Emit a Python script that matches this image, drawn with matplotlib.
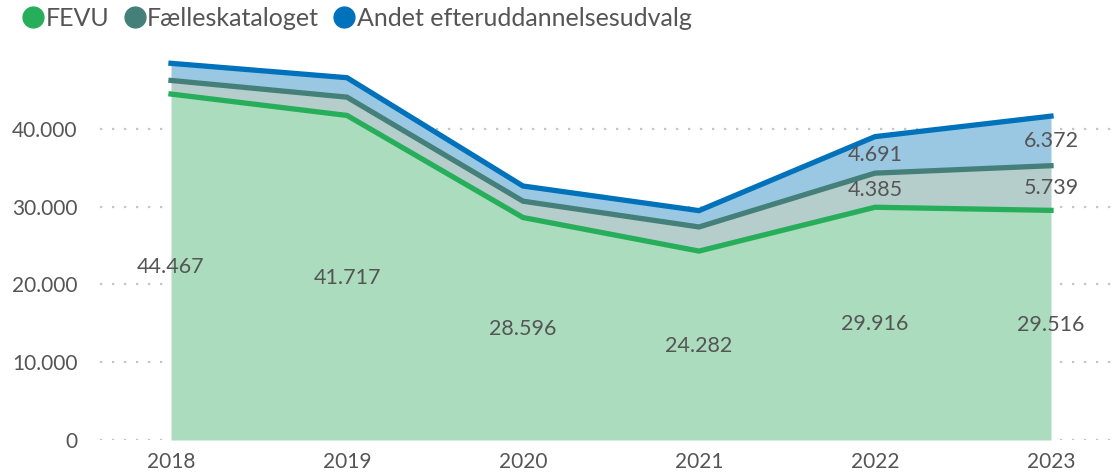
import numpy as np
import matplotlib.pyplot as plt
from matplotlib.lines import Line2D

years = [2018, 2019, 2020, 2021, 2022, 2023]
fevu = [44467, 41717, 28596, 24282, 29916, 29516]
faelles = [1750, 2350, 2100, 3100, 4385, 5739]
andet = [2200, 2500, 1950, 2100, 4691, 6372]

series = ["FEVU", "Fælleskataloget", "Andet efteruddannelsesudvalg"]
line_colors = ["#27ae5a", "#457f7a", "#0072bb"]
fill_colors = ["#aadcbd", "#b5cdcb", "#9ac8e2"]
yticks = [0, 10000, 20000, 30000, 40000]

plt.rcParams["font.family"] = ["Lato", "DejaVu Sans"]


def dk(v):
    return f"{v:,}".replace(",", ".")


fig = plt.figure(figsize=(11.14, 4.76), dpi=100)
ax = fig.add_axes([100 / 1114, 36 / 476, 1014 / 1114, 389 / 476])

x = np.array(years)
vals = [np.array(fevu), np.array(faelles), np.array(andet)]
base = np.zeros(len(x))
for v, fc in zip(vals, fill_colors):
    top = base + v
    ax.fill_between(x, base, top, color=fc, linewidth=0, zorder=1)
    base = top

base = np.zeros(len(x))
for i, (v, lc) in enumerate(zip(vals, line_colors)):
    top = base + v
    ax.plot(x, top, color=lc, linewidth=3.8, solid_joinstyle="miter", zorder=3 + i)
    for xi, b, vi in zip(x, base, v):
        if vi > 4000:
            ax.text(xi, b + vi / 2, dk(int(vi)), ha="center", va="center",
                    fontsize=15.5, color="#555555", zorder=10)
    base = top

ax.set_xlim(2018 - 71 / 176, 2018 - 71 / 176 + 1014 / 176)
ax.set_ylim(0, 50000)
ax.set_xticks(years)
ax.set_xticklabels([str(y) for y in years])
ax.set_yticks(yticks)
ax.set_yticklabels([dk(t) for t in yticks])
ax.tick_params(length=0, labelsize=15, colors="#555555")
ax.tick_params(axis="y", pad=16)
ax.tick_params(axis="x", pad=9)
for t in yticks:
    ax.axhline(t, color="#c4c4c4", linewidth=1.6, linestyle=(0, (1, 4.4)), zorder=0.5)
for s in ax.spines.values():
    s.set_visible(False)

handles = [Line2D([], [], marker="o", linestyle="", markersize=15, color=c)
           for c in line_colors]
fig.legend(handles, series, loc="upper left", bbox_to_anchor=(0.003, 1.017), ncol=3,
           frameon=False, fontsize=18, handletextpad=-0.1, columnspacing=0.4,
           handlelength=1.2, borderaxespad=0.2, labelcolor="#555555")

fig.savefig("out.png", dpi=100)
